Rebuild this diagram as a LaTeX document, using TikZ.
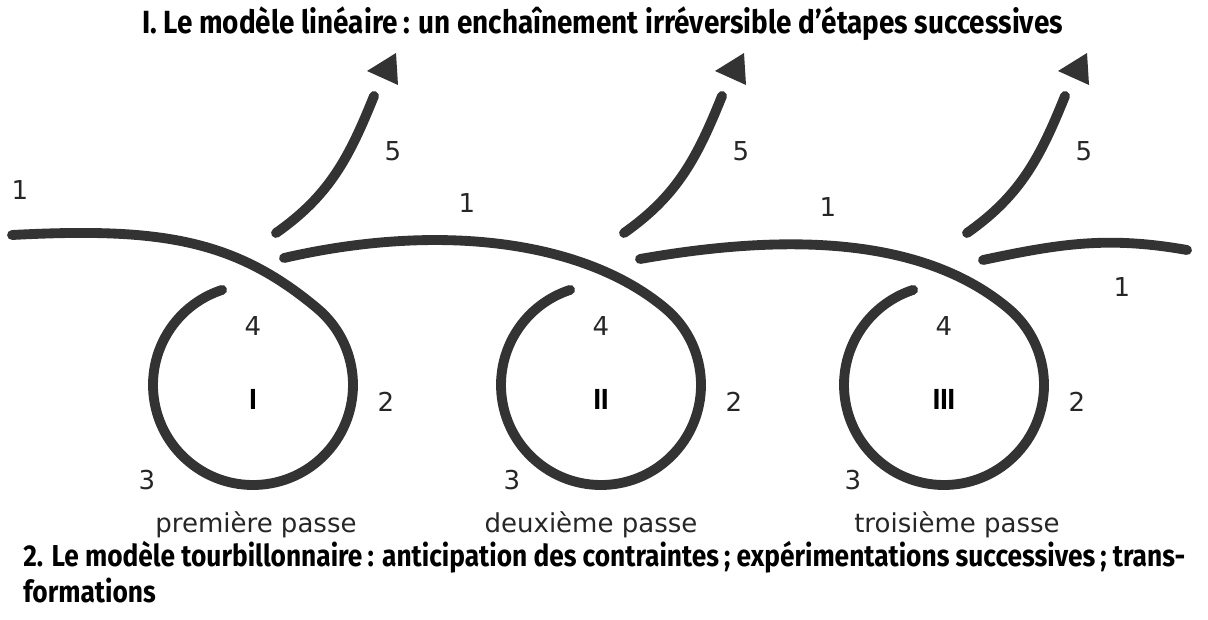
\documentclass[tikz,border=0pt]{standalone}
\usepackage{fontspec}
\setmainfont{DejaVu Sans}
\newfontfamily\headfont[FakeStretch=0.87]{Fira Sans}
\usetikzlibrary{positioning}

\begin{document}
\begin{tikzpicture}[x=0.025cm,y=0.025cm,
  strand/.style={draw=black!80,line width=7pt,line cap=round},
  head/.style={fill=black!80},
  num/.style={font=\fontsize{18.5}{20}\selectfont,text=black!85,inner sep=0pt},
  roman/.style={font=\headfont\bfseries\fontsize{20.6}{24}\selectfont,inner sep=0pt},
  passe/.style={font=\fontsize{18.5}{20}\selectfont,text=black!85,inner sep=0pt,anchor=base},
  titre/.style={font=\headfont\bfseries\fontsize{21.5}{26}\selectfont,inner sep=0pt,anchor=base west}]
\useasboundingbox (0,0) rectangle (1208,-619);

% centres of the three loops
\coordinate (c1) at (253,-385);
\coordinate (c2) at (601,-385);
\coordinate (c3) at (944,-385);
% free ends of the strands
\coordinate (s1) at (12,-235);
\coordinate (s2) at (284,-258);
\coordinate (s3) at (640,-259);
\coordinate (s4) at (983,-260);
\coordinate (e4) at (1187,-250);

\foreach \i/\o/\d in {1/3/3.7,2/13/3.9,3/10/3.9}
  \draw[strand] (s\i) to[out=\o,in=140,out distance=\d cm,in distance=2.7cm] ([shift={(50:100)}]c\i)
    arc[start angle=50,end angle=-252,radius=100];
\draw[strand] (s4) to[out=12,in=170] (e4);

% exits (5) with their detached heads
\foreach \i in {1,2,3} {
  \draw[strand] ([shift={(23,152)}]c\i) to[out=35,in=-112] ([shift={(121,289)}]c\i);
  \fill[head] ([shift={(114,314)}]c\i) -- ([shift={(145,300)}]c\i) -- ([shift={(143,332)}]c\i) -- cycle;
}

\node[num] (un1) at (20,-190) {1};
\node[num] (un2) at (467,-203) {1};
\node[num] (un3) at (828,-207) {1};
\node[num] (un4) at (1122,-287) {1};
\foreach \i/\r/\t in {1/I/-106,2/II/-89,3/III/-91} {
  \node[num] (cinq\i) at ([shift={(140,234)}]c\i) {5};
  \node[num] (quatre\i) at ([shift={(0,59)}]c\i) {4};
  \node[roman] (boucle\i) at ([shift={(0,-14)}]c\i) {\r};
  \node[num] (deux\i) at ([shift={(133,-17)}]c\i) {2};
  \node[num] (trois\i) at ([shift={(\t,-95)}]c\i) {3};
}
\node[passe] (passe1) at (256,-532) {première passe};
\node[passe] (passe2) at (591,-532) {deuxième passe};
\node[passe] (passe3) at (957,-532) {troisième passe};

\node[titre,font=\headfont\bfseries\fontsize{22.8}{26}\selectfont] (lineaire) at (142,-33) {I. Le modèle linéaire\,: un enchaînement irréversible d’étapes successives};
\node[titre] (tourb) at (23,-566) {2. Le modèle tourbillonnaire\,: anticipation des contraintes\,; expérimentations successives\,; trans-};
\node[titre] (tourb2) at (23,-602) {formations};
\end{tikzpicture}
\end{document}
